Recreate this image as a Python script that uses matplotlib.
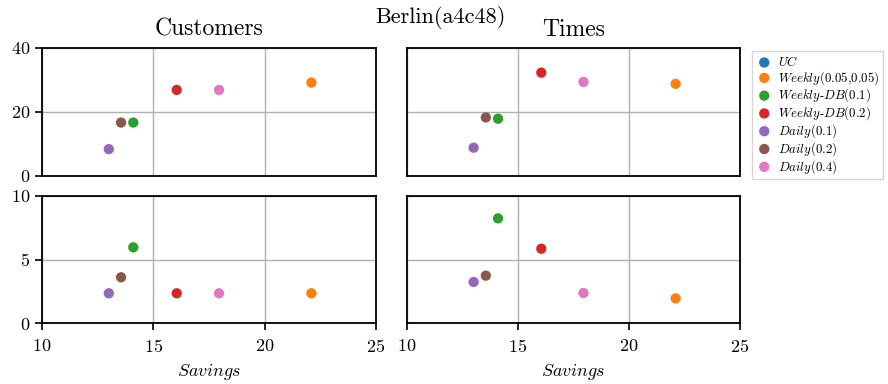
import numpy as np
import matplotlib
matplotlib.use("Agg")
import matplotlib.pyplot as plt

plt.rcParams['font.family'] = ['cmr10', 'DejaVu Serif']
plt.rcParams['mathtext.fontset'] = 'cm'
plt.rcParams['axes.formatter.use_mathtext'] = True

labels = [r'$UC$', r'$Weekly\mathrm{(0.05{,}0.05)}$', r'$Weekly\text{-}DB\mathrm{(0.1)}$',
          r'$Weekly\text{-}DB\mathrm{(0.2)}$', r'$Daily\mathrm{(0.1)}$',
          r'$Daily\mathrm{(0.2)}$', r'$Daily\mathrm{(0.4)}$']
colors = ['#1f77b4', '#ff7f0e', '#2ca02c', '#d62728', '#9467bd', '#8c564b', '#e377c2']

savings = [np.nan, 22.1, 14.1, 16.05, 13.0, 13.55, 17.95]
cust_top = [np.nan, 29.2, 16.7, 26.9, 8.4, 16.7, 26.9]
times_top = [np.nan, 28.8, 17.9, 32.3, 8.85, 18.3, 29.4]
cust_bot = [np.nan, 2.34, 5.96, 2.34, 2.34, 3.6, 2.34]
times_bot = [np.nan, 1.94, 8.24, 5.85, 3.23, 3.73, 2.36]

fig = plt.figure(figsize=(8.88, 3.84), dpi=100)
W, H = 888, 384
def box(x0, y0, x1, y1):
    return [x0 / W, 1 - y1 / H, (x1 - x0) / W, (y1 - y0) / H]

ax_tl = fig.add_axes(box(42, 48, 376, 176))
ax_tr = fig.add_axes(box(407, 48, 740, 176))
ax_bl = fig.add_axes(box(42, 196, 376, 323))
ax_br = fig.add_axes(box(407, 196, 740, 323))

data = [(ax_tl, cust_top), (ax_tr, times_top), (ax_bl, cust_bot), (ax_br, times_bot)]
for ax, ys in data:
    for i in range(len(labels)):
        ax.scatter([savings[i]], [ys[i]], color=colors[i], s=55, label=labels[i], zorder=3,
                   edgecolors='none')
    ax.set_xlim(10, 25)
    ax.set_xticks([10, 15, 20, 25])
    ax.grid(True, color='#b0b0b0', linewidth=1.0)
    ax.set_axisbelow(True)
    for sp in ax.spines.values():
        sp.set_linewidth(1.3)
    ax.tick_params(labelsize=13, width=1.2, length=5)
    ax.tick_params(axis='x', pad=6)

for ax in (ax_tl, ax_tr):
    ax.set_ylim(0, 40)
    ax.set_yticks([0, 20, 40])
    ax.tick_params(labelbottom=False, bottom=False)
for ax in (ax_bl, ax_br):
    ax.set_ylim(0, 10)
    ax.set_yticks([0, 5, 10])
    ax.set_xlabel(r'$Savings$', fontsize=13, labelpad=5)
for ax in (ax_tr, ax_br):
    ax.tick_params(labelleft=False, left=False)

ax_tl.set_title('Customers', fontsize=17, pad=9)
ax_tr.set_title('Times', fontsize=17, pad=9)
fig.text(0.496, 0.955, 'Berlin(a4c48)', ha='center', va='center', fontsize=16)

handles, labs = ax_tl.get_legend_handles_labels()
fig.legend(handles, labs, loc='upper left', bbox_to_anchor=(752 / W, 1 - 51 / H),
           fontsize=9.3, frameon=True, handletextpad=0.4, borderpad=0.3,
           labelspacing=0.0, markerscale=1.0, handlelength=1.3, fancybox=False,
           edgecolor='#cccccc', borderaxespad=0)

fig.savefig('out.png', dpi=100)
